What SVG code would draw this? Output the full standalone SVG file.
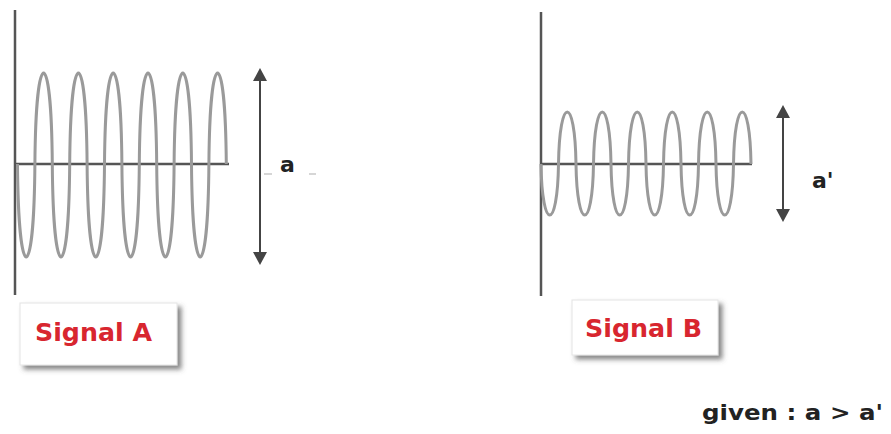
<svg xmlns="http://www.w3.org/2000/svg" width="891" height="434" viewBox="0 0 891 434">
  <style>
    .axis { stroke: #555; stroke-width: 2.5; fill: none; }
    .wave { stroke: #9a9a9a; stroke-width: 3; fill: none; }
    .arrow { stroke: #444; stroke-width: 2; fill: none; }
    .head { fill: #444; }
    .lbl { font-family: "DejaVu Sans", "Liberation Sans", sans-serif; font-weight: bold; fill: #222; }
    .sig { font-family: "DejaVu Sans", "Liberation Sans", sans-serif; font-weight: bold; fill: #d8262f; font-size: 25px; }
    .box { fill: #fff; stroke: #e4e4e4; stroke-width: 1; }
    .tick { stroke: #c8c8c8; stroke-width: 1.5; }
  </style>
  <defs>
    <filter id="shadow" x="-10%" y="-20%" width="130%" height="160%">
      <feDropShadow dx="4" dy="4" stdDeviation="2.5" flood-color="#555" flood-opacity="0.7"/>
    </filter>
  </defs>
  <rect width="891" height="434" fill="#ffffff"/>

  <g id="signalA">
    <line class="axis" x1="15" y1="10" x2="15" y2="295"/>
    <line class="axis" x1="15" y1="164" x2="229" y2="164"/>
    <path class="wave" d="M17.5,164 C18.5,288 33.9,288 34.9,164 C35.9,42.7 51.3,42.7 52.3,164 C53.3,288 68.7,288 69.7,164 C70.7,42.7 86.1,42.7 87.1,164 C88.1,288 103.5,288 104.5,164 C105.5,42.7 120.9,42.7 121.9,164 C122.9,288 138.3,288 139.3,164 C140.3,42.7 155.7,42.7 156.7,164 C157.7,288 173.1,288 174.1,164 C175.1,42.7 190.5,42.7 191.5,164 C192.5,288 207.9,288 208.9,164 C209.9,42.7 225.3,42.7 226.3,164"/>
  </g>

  <g id="signalB">
    <line class="axis" x1="541" y1="12" x2="541" y2="296"/>
    <line class="axis" x1="541" y1="164" x2="752" y2="164"/>
    <path class="wave" d="M541,164 C542,232 557.5,232 558.5,164 C559.5,94.7 575,94.7 576,164 C577,232 592.5,232 593.5,164 C594.5,94.7 610,94.7 611,164 C612,232 627.5,232 628.5,164 C629.5,94.7 645,94.7 646,164 C647,232 662.5,232 663.5,164 C664.5,94.7 680,94.7 681,164 C682,232 697.5,232 698.5,164 C699.5,94.7 715,94.7 716,164 C717,232 732.5,232 733.5,164 C734.5,94.7 750,94.7 751,164"/>
  </g>

  <g id="connectors">
    <g id="arrowA">
      <line class="arrow" x1="260" y1="78" x2="260" y2="255"/>
      <polygon class="head" points="260,68 253,81 267,81"/>
      <polygon class="head" points="260,265 253,252 267,252"/>
    </g>
    <g id="arrowB">
      <line class="arrow" x1="783" y1="115" x2="783" y2="212"/>
      <polygon class="head" points="783,105 776,118 790,118"/>
      <polygon class="head" points="783,222 776,209 790,209"/>
    </g>
  </g>

  <g id="labelA">
    <line class="tick" x1="264" y1="174" x2="272" y2="174"/>
    <line class="tick" x1="309" y1="174" x2="316" y2="174"/>
    <text class="lbl" x="280" y="172" font-size="22">a</text>
  </g>
  <g id="labelB">
    <text class="lbl" x="812" y="188" font-size="22">a'</text>
  </g>

  <g id="boxA">
    <rect class="box" x="20" y="303" width="157" height="62" filter="url(#shadow)"/>
    <text class="sig" x="35" y="341" textLength="117" lengthAdjust="spacingAndGlyphs">Signal A</text>
  </g>
  <g id="boxB">
    <rect class="box" x="572" y="300" width="146" height="55" filter="url(#shadow)"/>
    <text class="sig" x="585" y="337" textLength="117" lengthAdjust="spacingAndGlyphs">Signal B</text>
  </g>

  <g id="given">
    <text class="lbl" x="702" y="420" font-size="22" textLength="181" lengthAdjust="spacingAndGlyphs">given : a &gt; a'</text>
  </g>
</svg>
